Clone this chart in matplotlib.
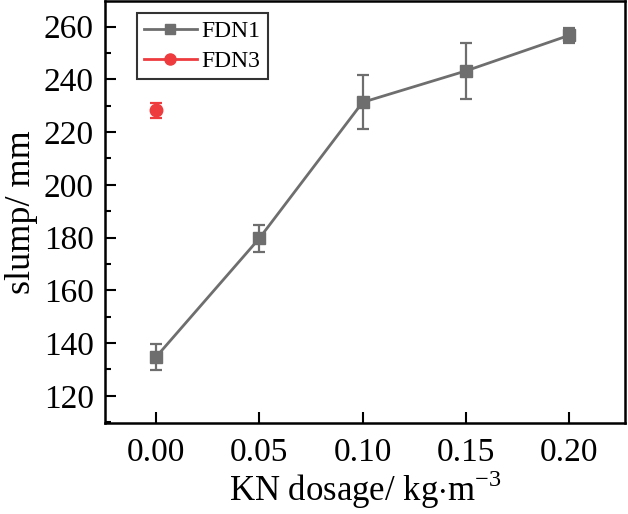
import numpy as np
import matplotlib.pyplot as plt
from matplotlib.lines import Line2D

plt.rcParams['font.family'] = ['Liberation Serif', 'DejaVu Serif']
plt.rcParams['mathtext.fontset'] = 'custom'
plt.rcParams['mathtext.rm'] = 'Liberation Serif'

# data
dosage = [0.00, 0.05, 0.10, 0.15, 0.20]
fdn1 = [134.7, 179.7, 231.3, 243.2, 256.7]
fdn1_err = [5.0, 5.0, 10.3, 10.5, 2.8]
fdn3_x = [0.00]
fdn3 = [228.2]
fdn3_err = [3.0]

gray = '#6e6e6e'
red = '#ee3b3e'

fig = plt.figure(figsize=(6.28, 5.14), dpi=100)
ax = fig.add_axes([0.1672, 0.1776, 0.828, 0.8204])

ax.errorbar(dosage, fdn1, yerr=fdn1_err, color=gray, marker='s', markersize=8,
            linewidth=2, elinewidth=1.6, capsize=4, capthick=1.6)
ax.errorbar(fdn3_x, fdn3, yerr=fdn3_err, color=red, marker='o', markersize=9,
            linewidth=2, elinewidth=1.6, capsize=4, capthick=1.6)

ax.set_xlim(-0.0247, 0.2270)
ax.set_ylim(109.8, 269.7)
ax.set_xticks(dosage)
ax.set_xticklabels(['0.00', '0.05', '0.10', '0.15', '0.20'])
ax.set_yticks(np.arange(120, 261, 20))
ax.set_yticks(np.arange(110, 270, 10), minor=True)

ax.tick_params(axis='both', which='major', direction='in', length=8, width=1.5,
               labelsize=24)
ax.tick_params(axis='x', pad=11)
ax.tick_params(axis='y', pad=8)
ax.tick_params(axis='y', which='minor', direction='in', length=4, width=1.5)
ax.tick_params(axis='x', which='minor', bottom=False)
for s in ax.spines.values():
    s.set_linewidth(1.8)

ax.set_ylabel('slump/ mm', fontsize=26, labelpad=4)
ax.set_xlabel('KN dosage/ kg$\\cdot$m$^{\\mathrm{-3}}$', fontsize=25, labelpad=0)

# legend shows only line + marker, no error bars
handles = [Line2D([], [], color=gray, marker='s', markersize=7, linewidth=2),
           Line2D([], [], color=red, marker='o', markersize=8, linewidth=2)]
leg = ax.legend(handles, ['FDN1', 'FDN3'], loc='upper left',
                bbox_to_anchor=(0.061, 0.971), fontsize=17, frameon=True,
                fancybox=False, handlelength=2.25, borderpad=0.3,
                labelspacing=0.38, handletextpad=0.2, borderaxespad=0)
leg.get_frame().set_edgecolor('black')
leg.get_frame().set_linewidth(1.5)

fig.savefig('out.png', dpi=100)
